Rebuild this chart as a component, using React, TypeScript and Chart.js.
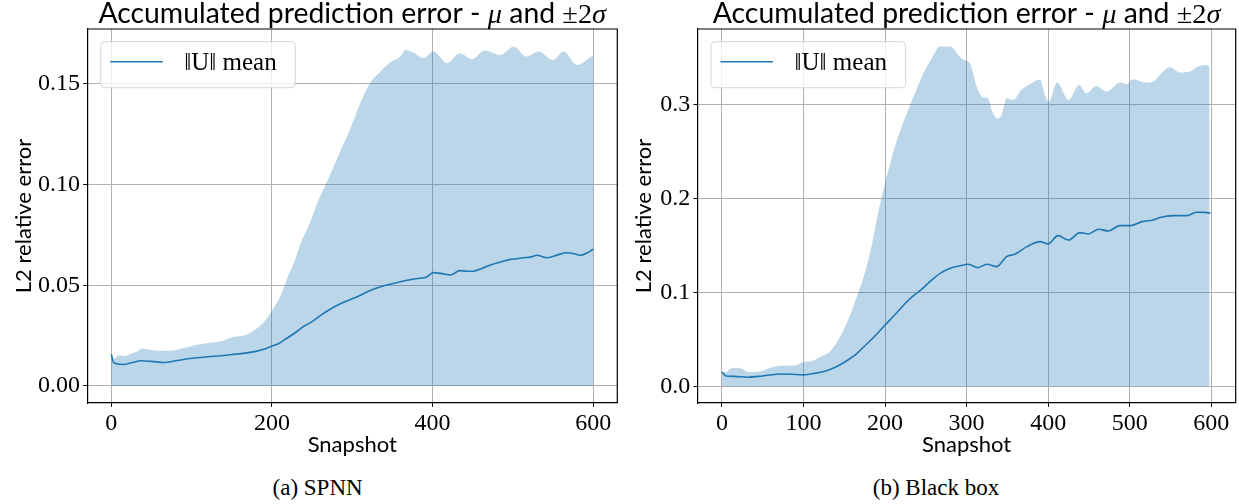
import React, { useEffect, useRef } from "react";
import { Chart, registerables } from "chart.js";

Chart.register(...registerables);

// ---------- SPNN (left) ----------
const spnnMeanX = [0, 3, 15, 25, 37, 50, 66, 80, 95, 115, 137, 150, 166, 180, 191, 200, 208, 215, 228, 240, 250, 261, 270, 282, 295, 306, 320, 335, 347, 360, 372, 384, 392, 401, 412, 422, 434, 443, 451, 462, 472, 484, 497, 505, 513, 522, 530, 542, 555, 567, 575, 584, 592, 600];
const spnnMeanY = [0.0158, 0.0115, 0.0107, 0.0115, 0.0125, 0.0122, 0.0117, 0.0125, 0.0135, 0.0143, 0.0150, 0.0156, 0.0163, 0.0172, 0.0184, 0.0198, 0.0210, 0.0228, 0.0262, 0.0297, 0.0320, 0.0352, 0.0375, 0.0402, 0.0425, 0.0443, 0.0470, 0.0493, 0.0505, 0.0518, 0.0528, 0.0535, 0.0540, 0.0563, 0.0558, 0.0551, 0.0573, 0.0570, 0.0570, 0.0585, 0.0601, 0.0615, 0.0629, 0.0632, 0.0637, 0.0640, 0.0649, 0.0637, 0.0650, 0.0662, 0.0658, 0.0649, 0.0660, 0.0679];
const spnnUpperX = [0, 3, 8, 12, 17, 25, 32, 38, 45, 52, 60, 70, 80, 95, 116, 137, 153, 166, 178, 186, 195, 203, 211, 219, 228, 236, 248, 257, 267, 285, 297, 310, 322, 335, 347, 360, 366, 376, 389, 401, 418, 434, 449, 465, 484, 501, 517, 532, 550, 563, 580, 598, 600];
const spnnUpperY = [0.0158, 0.0135, 0.0150, 0.0153, 0.0148, 0.0161, 0.0170, 0.0186, 0.0182, 0.0178, 0.0175, 0.0175, 0.0178, 0.0194, 0.0211, 0.0222, 0.0244, 0.0252, 0.0277, 0.0302, 0.0343, 0.0393, 0.0450, 0.0535, 0.0618, 0.0710, 0.0817, 0.0915, 0.1000, 0.1164, 0.1272, 0.1404, 0.1503, 0.1561, 0.1606, 0.1636, 0.1669, 0.1656, 0.1628, 0.1661, 0.1603, 0.1652, 0.1623, 0.1666, 0.1644, 0.1685, 0.1636, 0.1661, 0.1619, 0.1661, 0.1594, 0.1636, 0.1640];
const spnnXTicks = [0, 200, 400, 600];
const spnnYTicks = [0, 0.05, 0.1, 0.15];

// ---------- Black box (right) ----------
const bbMeanX = [0, 5, 15, 32, 50, 72, 85, 100, 115, 130, 142, 154, 165, 174, 187, 200, 212, 223, 233, 244, 256, 268, 280, 292, 302, 314, 325, 337, 349, 359, 374, 390, 400, 412, 425, 439, 449, 462, 474, 488, 501, 515, 529, 537, 554, 570, 582, 592, 599];
const bbMeanY = [0.0153, 0.0110, 0.0105, 0.0096, 0.0110, 0.0131, 0.0128, 0.0121, 0.0140, 0.0171, 0.0215, 0.0277, 0.0345, 0.0420, 0.0530, 0.0651, 0.0760, 0.0864, 0.0950, 0.1025, 0.1120, 0.1203, 0.1255, 0.1281, 0.1298, 0.1262, 0.1298, 0.1273, 0.1379, 0.1404, 0.1485, 0.1538, 0.1514, 0.1602, 0.1556, 0.1634, 0.1620, 0.1670, 0.1652, 0.1709, 0.1709, 0.1751, 0.1769, 0.1794, 0.1815, 0.1815, 0.1851, 0.1850, 0.1840];
const bbUpperX = [0, 5, 11, 18, 24, 32, 44, 60, 72, 89, 100, 109, 121, 134, 146, 158, 166, 174, 182, 190, 198, 206, 214, 222, 235, 247, 259, 267, 280, 288, 296, 304, 312, 320, 326, 331, 337, 343, 349, 357, 367, 376, 390, 396, 401, 411, 425, 438, 447, 459, 472, 488, 496, 504, 519, 529, 537, 549, 562, 574, 582, 594, 598];
const bbUpperY = [0.0153, 0.0150, 0.0189, 0.0196, 0.0189, 0.0153, 0.0153, 0.0196, 0.0217, 0.0220, 0.0259, 0.0266, 0.0313, 0.0384, 0.0544, 0.0776, 0.0971, 0.1170, 0.1430, 0.1780, 0.2090, 0.2360, 0.2600, 0.2798, 0.3081, 0.3330, 0.3514, 0.3613, 0.3613, 0.3543, 0.3472, 0.3436, 0.3200, 0.3071, 0.3064, 0.2939, 0.2851, 0.2886, 0.3064, 0.3046, 0.3152, 0.3205, 0.3259, 0.3099, 0.3028, 0.3230, 0.3046, 0.3205, 0.3117, 0.3195, 0.3134, 0.3230, 0.3213, 0.3266, 0.3230, 0.3241, 0.3312, 0.3394, 0.3337, 0.3347, 0.3394, 0.3418, 0.3400];
const bbXTicks = [0, 100, 200, 300, 400, 500, 600];
const bbYTicks = [0, 0.1, 0.2, 0.3];

const TITLE_SEGMENTS = [
  { t: "Accumulated prediction error - ", f: "sans" },
  { t: "μ", f: "it" },
  { t: " and ", f: "sans" },
  { t: "±2", f: "rm" },
  { t: "σ", f: "it" },
];
const LEGEND_LABEL = "‖U‖ mean";
const X_LABEL = "Snapshot";
const Y_LABEL = "L2 relative error";

const BLUE = "#1f77b4";
const BAND = "rgba(31,119,180,0.3)";
const SERIF = '"Liberation Serif", "DejaVu Serif", serif';
const SANS = 'Lato, "DejaVu Sans", sans-serif';

const toPts = (xs: number[], ys: number[]) => xs.map((x, i) => ({ x, y: ys[i] }));

function fontFor(kind: string, size: number) {
  if (kind === "sans") return `${size}px ${SANS}`;
  if (kind === "it") return `italic ${size}px ${SERIF}`;
  return `${size}px ${SERIF}`;
}

const decorPlugin = {
  id: "decor",
  afterDraw(chart: any) {
    const { ctx, chartArea: a } = chart;
    ctx.save();
    // top/right spines
    ctx.strokeStyle = "#000";
    ctx.lineWidth = 1.2;
    ctx.beginPath();
    ctx.moveTo(a.left, a.top);
    ctx.lineTo(a.right, a.top);
    ctx.lineTo(a.right, a.bottom);
    ctx.stroke();

    // title (mixed fonts)
    const base = 27;
    let w = 0;
    for (const s of TITLE_SEGMENTS) {
      ctx.font = fontFor(s.f, base);
      w += ctx.measureText(s.t).width;
    }
    const target = 508;
    const size = base * Math.min(1.1, target / w);
    let tw = 0;
    for (const s of TITLE_SEGMENTS) {
      ctx.font = fontFor(s.f, size);
      tw += ctx.measureText(s.t).width;
    }
    let x = (a.left + a.right) / 2 - tw / 2;
    ctx.fillStyle = "#000";
    ctx.textBaseline = "alphabetic";
    ctx.textAlign = "left";
    for (const s of TITLE_SEGMENTS) {
      ctx.font = fontFor(s.f, size);
      ctx.fillText(s.t, x, 22.7);
      x += ctx.measureText(s.t).width;
    }

    // legend
    const lx = a.left + 13.5;
    const ly = a.top + 12.7;
    const lw = 194.5;
    const lh = 46;
    ctx.beginPath();
    if ((ctx as any).roundRect) (ctx as any).roundRect(lx, ly, lw, lh, 4);
    else ctx.rect(lx, ly, lw, lh);
    ctx.fillStyle = "rgba(255,255,255,0.8)";
    ctx.fill();
    ctx.strokeStyle = "rgba(204,204,204,0.8)";
    ctx.lineWidth = 1;
    ctx.stroke();
    ctx.strokeStyle = BLUE;
    ctx.lineWidth = 1.6;
    ctx.beginPath();
    ctx.moveTo(lx + 9.5, ly + 20);
    ctx.lineTo(lx + 62, ly + 20);
    ctx.stroke();
    ctx.fillStyle = "#000";
    ctx.font = `24px ${SERIF}`;
    const lwText = ctx.measureText(LEGEND_LABEL).width;
    const lsize = Math.max(22, Math.min(25, 24 * 102 / lwText));
    ctx.font = `${lsize}px ${SERIF}`;
    ctx.fillText(LEGEND_LABEL, lx + 83.5, ly + 28.5);
    ctx.restore();
  },
};

function makeConfig(opts: {
  meanX: number[]; meanY: number[]; upX: number[]; upY: number[];
  xTicks: number[]; yTicks: number[]; yMin: number; yMax: number; yDec: number;
  yWidth: number; padRight: number;
}): any {
  return {
    type: "line",
    data: {
      datasets: [
        {
          label: LEGEND_LABEL,
          data: toPts(opts.meanX, opts.meanY),
          borderColor: BLUE,
          borderWidth: 1.6,
          pointRadius: 0,
          fill: false,
          cubicInterpolationMode: "monotone",
        },
        {
          label: "band",
          data: toPts(opts.upX, opts.upY),
          borderColor: "rgba(0,0,0,0)",
          borderWidth: 0,
          backgroundColor: BAND,
          pointRadius: 0,
          fill: "origin",
          cubicInterpolationMode: "monotone",
        },
      ],
    },
    options: {
      animation: false,
      responsive: false,
      devicePixelRatio: 1,
      events: [],
      layout: { padding: { left: 0, right: opts.padRight, top: 29, bottom: 0 } },
      plugins: { legend: { display: false }, title: { display: false }, tooltip: { enabled: false } },
      scales: {
        x: {
          type: "linear",
          min: -30,
          max: 630,
          afterFit: (s: any) => { s.height = 62; },
          afterBuildTicks: (s: any) => { s.ticks = opts.xTicks.map((v) => ({ value: v })); },
          ticks: {
            font: { family: SERIF, size: 24 },
            color: "#000",
            padding: 2,
            maxRotation: 0,
            autoSkip: false,
            callback: (v: any) => String(v),
          },
          grid: { color: "#b0b0b0", lineWidth: 1, tickColor: "#000", tickLength: 4, drawTicks: true },
          border: { display: true, color: "#000", width: 1.2 },
          title: {
            display: true,
            text: X_LABEL,
            font: { family: SANS, size: 22 },
            color: "#000",
            padding: { top: 0, bottom: 7.3 },
          },
        },
        y: {
          type: "linear",
          min: opts.yMin,
          max: opts.yMax,
          afterFit: (s: any) => { s.width = opts.yWidth; },
          afterBuildTicks: (s: any) => { s.ticks = opts.yTicks.map((v) => ({ value: v })); },
          ticks: {
            font: { family: SERIF, size: 24 },
            color: "#000",
            padding: 3.3,
            autoSkip: false,
            callback: (v: any) => Number(v).toFixed(opts.yDec),
          },
          grid: { color: "#b0b0b0", lineWidth: 1, tickColor: "#000", tickLength: 4, drawTicks: true },
          border: { display: true, color: "#000", width: 1.2 },
          title: {
            display: true,
            text: Y_LABEL,
            font: { family: SANS, size: 22 },
            color: "#000",
            padding: { top: 10.8, bottom: 0 },
          },
        },
      },
    },
    plugins: [decorPlugin],
  };
}

export default function App() {
  const refA = useRef<HTMLCanvasElement>(null);
  const refB = useRef<HTMLCanvasElement>(null);
  useEffect(() => {
    document.body.style.margin = "0";
    const a = new Chart(refA.current as HTMLCanvasElement, makeConfig({
      meanX: spnnMeanX, meanY: spnnMeanY, upX: spnnUpperX, upY: spnnUpperY,
      xTicks: spnnXTicks, yTicks: spnnYTicks, yMin: -0.00845, yMax: 0.1773, yDec: 2,
      yWidth: 87.2, padRight: 2.7,
    }));
    const b = new Chart(refB.current as HTMLCanvasElement, makeConfig({
      meanX: bbMeanX, meanY: bbMeanY, upX: bbUpperX, upY: bbUpperY,
      xTicks: bbXTicks, yTicks: bbYTicks, yMin: -0.0178, yMax: 0.380, yDec: 1,
      yWidth: 77.5, padRight: 3.3,
    }));
    return () => { a.destroy(); b.destroy(); };
  }, []);
  const cap: React.CSSProperties = {
    position: "absolute", top: 475.7, width: 300, textAlign: "center",
    fontFamily: SERIF, fontSize: 23, lineHeight: "23px", color: "#000", whiteSpace: "nowrap",
  };
  return (
    <div style={{ position: "relative", width: 1239, height: 504, background: "#fff", overflow: "hidden" }}>
      <canvas ref={refA} width={620} height={465} style={{ position: "absolute", left: 0, top: 0 }} />
      <canvas ref={refB} width={619} height={465} style={{ position: "absolute", left: 620, top: 0 }} />
      <div style={{ ...cap, left: 317.6 - 150 }}>(a) SPNN</div>
      <div style={{ ...cap, left: 936 - 150 }}>(b) Black box</div>
    </div>
  );
}
